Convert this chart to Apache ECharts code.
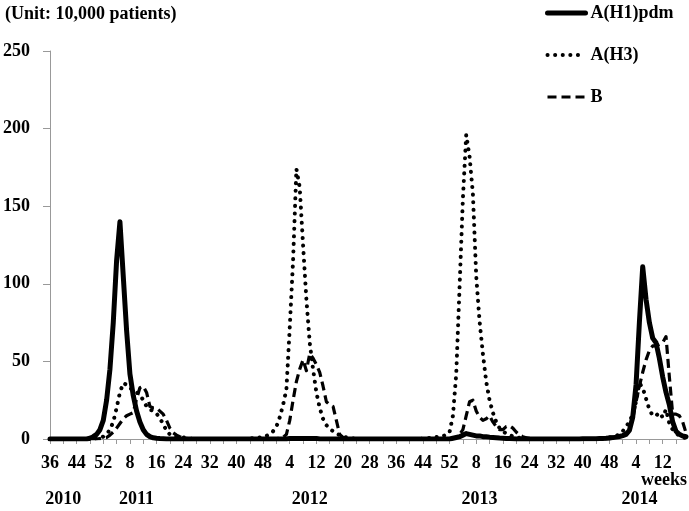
<!DOCTYPE html>
<html>
<head>
<meta charset="utf-8">
<script src="https://cdn.jsdelivr.net/npm/echarts@6/dist/echarts.min.js"></script>
<style>
html,body{margin:0;padding:0;background:#fff;}
#chart{width:689px;height:511px;}
</style>
</head>
<body>
<div id="chart"></div>
<script>
// ---- categories: ISO week numbers, 2010 wk36 .. 2014 wk19 ----
function range(a, b) { var r = []; for (var i = a; i <= b; i++) r.push(i); return r; }
var weeks2010 = range(36, 52);
var weeks2011 = range(1, 52);
var weeks2012 = range(1, 52);
var weeks2013 = range(1, 52);
var weeks2014 = range(1, 19);
var weeks = [].concat(weeks2010, weeks2011, weeks2012, weeks2013, weeks2014);

// year labels shown under the week labels (category index -> text)
var yearLabels = { 4: '2010', 26: '2011', 78: '2012', 129: '2013', 177: '2014' };

// ---- A(H1)pdm (10,000 patients) ----
var h1_2010 = [0,0,0,0,0,0,0,0,0,0,0,0,0.5,1.5,3,6,12];
var h1_2011 = [25,45,75,115,140,105,70,42,28,18,11,6,3,1.5,0.8,0.5,0.3,0.2,
  0,0,0,0,0,0,0,0,0,0,0,0,0,0,0,0,0,0,0,0,0,0,0,0,0,0,0,0,0,0,0,0,0,0];
var h1_2012 = [0,0,0,0.4,0.4,0.4,0.4,0.4,0.4,0.4,0.4,0.4,
  0,0,0,0,0,0,0,0,0,0,0,0,0,0,0,0,0,0,0,0,0,0,0,0,0,0,0,0,0,0,0,0,0,0,0,0,0,0,0,0];
var h1_2013 = [0.5,1,1.5,2.5,3.5,3,2.5,2,2,1.5,1.5,1.2,1,0.8,0.6,0.5,0.4,0.3,0.2,
  0,0,0,0,0,0,0,0,0,0,0,0,0,0,0,0,0,0,0,0,
  0.2,0.2,0.2,0.2,0.2,0.3,0.4,0.5,0.7,0.9,1.2,1.6,2.2];
var h1_2014 = [3,5.5,14,35,75,111,90,75,65,62,52,40,30,22,11,5,3,2,1.5];

// ---- A(H3) ----
var h3_2010 = [0,0,0,0,0,0,0,0,0,0,0,0,0,0.3,0.5,1,1.5];
var h3_2011 = [3,6,11,20,30,36,35,33,31,30,28.5,25,21,19,18,16.5,13,10,5,3,2,1.5,1.5,1,0.6,0.3,
  0,0,0,0,0,0,0,0,0,0,0,0,0,0,0,0,0,
  0.3,0.5,0.8,1,1.5,2,3,5,8];
var h3_2012 = [14,22,32,72,115,174,162,125,90,62,45,30,20,13,9,6.5,5,3.5,2.5,1.5,1,0.6,0.3,
  0,0,0,0,0,0,0,0,0,0,0,0,0,0,0,0,0,0,0,0,
  0.3,0.5,0.7,1,1.2,1.5,2,2.5,4.5];
var h3_2013 = [15,42,98,155,196,182,158,105,76,55,37,25,17,11,7,5,3.5,2.5,1.8,1.2,0.8,0.5,0.3,
  0,0,0,0,0,0,0,0,0,0,0,0,0,0,0,0,0,0,0,0,0,
  0.3,0.5,0.7,1,1.5,2,3,5];
var h3_2014 = [8,11,16,24,36,33,26,19,15,15,17,14,19,10,6,4,2,1,0.7];

// ---- B ----
var b_2010 = [0,0,0,0,0,0,0,0,0,0,0,0,0,0,0,0.3,0.5];
var b_2011 = [1,2.5,4.5,7,10,13,15,16,17,26,33,34,30,21,20,20,18,16,12,7,4,2.5,1.5,0.8,0.4,
  0,0,0,0,0,0,0,0,0,0,0,0,0,0,0,0,0,0,0,0,0,0,0,0,0,0,
  0.3];
var b_2012 = [0.5,1,3,12,25,37,45,51,44,55,52,48,43,34,24,22,21,12,3,1,0.5,0.3,
  0,0,0,0,0,0,0,0,0,0,0,0,0,0,0,0,0,0,0,0,0,0,0,0,0,0,0,0,0,0];
var b_2013 = [0.5,1,3,6,15,24,25,18,14,12,13,15,11,8,6,6,8,8.5,7,4.5,2.5,1.5,0.8,0.4,
  0,0,0,0,0,0,0,0,0,0,0,0,0,0,0,0,0,0,0,0,0,0,0,
  0.3,0.5,1,1.5,2.5];
var b_2014 = [4,7,13,24,34,43,51,57,60,60,61,62,66,40,16,16,15,11,4];

var seriesH1 = [].concat(h1_2010, h1_2011, h1_2012, h1_2013, h1_2014);
var seriesH3 = [].concat(h3_2010, h3_2011, h3_2012, h3_2013, h3_2014);
var seriesB  = [].concat(b_2010, b_2011, b_2012, b_2013, b_2014);

var yTicks = { min: 0, max: 250, interval: 50 };

var FONT = 'Liberation Serif';
var H1_STYLE = { color: '#000', width: 5, type: 'solid', join: 'round', cap: 'round' };
var H3_STYLE = { color: '#000', width: 4, type: [0.1, 7.5], cap: 'round', join: 'round' };
var B_STYLE  = { color: '#000', width: 3.2, type: [9, 5], cap: 'butt', join: 'round' };

var chart = echarts.init(document.getElementById('chart'), null, { renderer: 'canvas' });
chart.setOption({
  animation: false,
  backgroundColor: '#ffffff',
  title: {
    text: '(Unit: 10,000 patients)',
    left: 5, top: 5, padding: 0,
    textStyle: { fontFamily: FONT, fontWeight: 'bold', fontSize: 18, color: '#000' }
  },
  legend: {
    orient: 'vertical',
    left: 545, top: 4,
    itemWidth: 38, itemHeight: 14, itemGap: 24,
    padding: 0,
    itemStyle: { opacity: 0 },
    textStyle: { fontFamily: FONT, fontWeight: 'bold', fontSize: 18, color: '#000', lineHeight: 18 },
    data: [
      { name: 'A(H1)pdm', lineStyle: H1_STYLE, itemStyle: { opacity: 0 } },
      { name: 'A(H3)', lineStyle: H3_STYLE, itemStyle: { opacity: 0 } },
      { name: 'B', lineStyle: B_STYLE, itemStyle: { opacity: 0 } }
    ]
  },
  graphic: [{
    type: 'text', right: 2, top: 471,
    style: { text: 'weeks', font: 'bold 18px "' + FONT + '"', fill: '#000' }
  }],
  grid: { left: 50, right: 3, top: 51, bottom: 72, containLabel: false },
  xAxis: [{
    type: 'category',
    data: weeks,
    boundaryGap: false,
    axisLine: { show: true, lineStyle: { color: '#999', width: 1 } },
    axisTick: { show: true, interval: 3, length: 5, lineStyle: { color: '#999' } },
    axisLabel: { interval: 7, margin: 15, fontFamily: FONT, fontWeight: 'bold', fontSize: 18, color: '#000' },
    splitLine: { show: false }
  }, {
    type: 'category',
    data: weeks,
    boundaryGap: false,
    position: 'bottom',
    offset: 36,
    axisLine: { show: false },
    axisTick: { show: false },
    axisLabel: {
      interval: function (idx) { return yearLabels[idx] !== undefined; },
      formatter: function (v, idx) { return yearLabels[idx] || ''; },
      margin: 15, fontFamily: FONT, fontWeight: 'bold', fontSize: 18, color: '#000'
    },
    splitLine: { show: false }
  }],
  yAxis: {
    type: 'value',
    min: yTicks.min, max: yTicks.max, interval: yTicks.interval,
    axisLine: { show: true, lineStyle: { color: '#999', width: 1 } },
    axisTick: { show: true, length: 7, lineStyle: { color: '#999' } },
    axisLabel: { margin: 20, fontFamily: FONT, fontWeight: 'bold', fontSize: 18, color: '#000' },
    splitLine: { show: false }
  },
  series: [{
    name: 'A(H1)pdm', type: 'line', data: seriesH1, xAxisIndex: 0,
    symbol: 'none', smooth: false,
    lineStyle: H1_STYLE, itemStyle: { color: '#000' }
  }, {
    name: 'A(H3)', type: 'line', data: seriesH3, xAxisIndex: 0,
    symbol: 'none', smooth: false,
    lineStyle: H3_STYLE, itemStyle: { color: '#000' }
  }, {
    name: 'B', type: 'line', data: seriesB, xAxisIndex: 0,
    symbol: 'none', smooth: false,
    lineStyle: B_STYLE, itemStyle: { color: '#000' }
  }]
});
</script>
</body>
</html>
